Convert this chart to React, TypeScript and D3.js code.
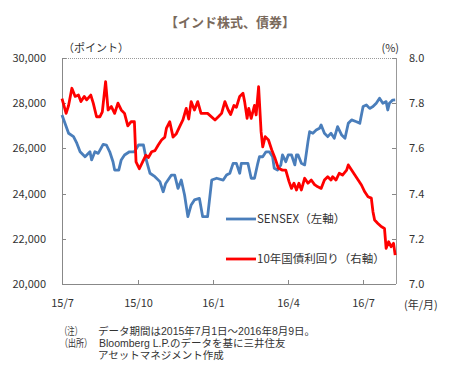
import React from "react";
import * as d3 from "d3";

// SENSEX (left axis)
const sensexDates = [
  "2015-07-01", "2015-07-09", "2015-07-15", "2015-07-19", "2015-07-23", "2015-07-29",
  "2015-08-04", "2015-08-06", "2015-08-10", "2015-08-14", "2015-08-20", "2015-08-24",
  "2015-08-28", "2015-09-01", "2015-09-03", "2015-09-08", "2015-09-11", "2015-09-15",
  "2015-09-21", "2015-09-27", "2015-10-02", "2015-10-08", "2015-10-12", "2015-10-16",
  "2015-10-22", "2015-10-28", "2015-11-01", "2015-11-04", "2015-11-11", "2015-11-15",
  "2015-11-19", "2015-11-23", "2015-11-27", "2015-12-01", "2015-12-05", "2015-12-09",
  "2015-12-15", "2015-12-19", "2015-12-25", "2015-12-30", "2016-01-05", "2016-01-13",
  "2016-01-17", "2016-01-21", "2016-01-25", "2016-01-29", "2016-02-02", "2016-02-04",
  "2016-02-12", "2016-02-16", "2016-02-20", "2016-02-24", "2016-02-26", "2016-03-01",
  "2016-03-05", "2016-03-09", "2016-03-13", "2016-03-15", "2016-03-19", "2016-03-23",
  "2016-03-25", "2016-03-29", "2016-04-01", "2016-04-05", "2016-04-09", "2016-04-11",
  "2016-04-13", "2016-04-17", "2016-04-21", "2016-04-25", "2016-04-27", "2016-05-01",
  "2016-05-05", "2016-05-09", "2016-05-11", "2016-05-15", "2016-05-19", "2016-05-23",
  "2016-05-27", "2016-05-31", "2016-06-05", "2016-06-09", "2016-06-13", "2016-06-17",
  "2016-06-23", "2016-06-27", "2016-07-01", "2016-07-05", "2016-07-09", "2016-07-13",
  "2016-07-17", "2016-07-21", "2016-07-25", "2016-07-29", "2016-07-31", "2016-08-02",
  "2016-08-06", "2016-08-09",
];
const sensexValues = [
  27480, 26670, 26520, 26230, 25850, 25630,
  25850, 25490, 25850, 25780, 26180, 26150,
  25850, 25410, 25040, 25040, 25490, 25710,
  25850, 25850, 26150, 26150, 25410, 24900,
  24750, 24530, 24080, 24450, 24820, 24820,
  24230, 24600, 23940, 22980, 23500, 23720,
  23790, 22980, 22980, 24600, 24680, 24600,
  24820, 24900, 25340, 25340, 24900, 25340,
  25340, 24680, 24680, 25340, 25630, 25630,
  25850, 25850, 25630, 25120, 25040, 25270,
  25710, 25410, 25710, 25710, 25270, 25710,
  25710, 25340, 25270, 26300, 26740, 26670,
  26810, 26890, 27040, 26670, 26520, 26670,
  26450, 26960, 26590, 26450, 27110, 27260,
  27180, 27110, 27850, 27920, 27770, 27850,
  28000, 28220, 28000, 28070, 27700, 28000,
  28140, 28150,
];

// 10-year government bond yield (right axis, %)
const yieldDates = [
  "2015-07-01", "2015-07-06", "2015-07-09", "2015-07-13", "2015-07-17", "2015-07-21",
  "2015-07-24", "2015-07-28", "2015-07-31", "2015-08-05", "2015-08-08", "2015-08-12",
  "2015-08-16", "2015-08-19", "2015-08-23", "2015-08-26", "2015-08-30", "2015-09-03",
  "2015-09-07", "2015-09-11", "2015-09-15", "2015-09-19", "2015-09-23", "2015-09-27",
  "2015-09-29", "2015-10-03", "2015-10-07", "2015-10-11", "2015-10-14", "2015-10-18",
  "2015-10-22", "2015-10-26", "2015-10-30", "2015-11-03", "2015-11-05", "2015-11-09",
  "2015-11-13", "2015-11-17", "2015-11-21", "2015-11-25", "2015-11-29", "2015-12-02",
  "2015-12-05", "2015-12-09", "2015-12-13", "2015-12-17", "2015-12-25", "2016-01-03",
  "2016-01-07", "2016-01-11", "2016-01-15", "2016-01-19", "2016-01-22", "2016-01-26",
  "2016-01-29", "2016-02-02", "2016-02-06", "2016-02-08", "2016-02-11", "2016-02-13",
  "2016-02-16", "2016-02-20", "2016-02-22", "2016-02-25", "2016-02-28", "2016-03-01",
  "2016-03-04", "2016-03-08", "2016-03-12", "2016-03-16", "2016-03-20", "2016-03-25",
  "2016-03-29", "2016-04-02", "2016-04-05", "2016-04-08", "2016-04-11", "2016-04-14",
  "2016-04-17", "2016-04-21", "2016-04-25", "2016-04-29", "2016-05-03", "2016-05-07",
  "2016-05-11", "2016-05-15", "2016-05-19", "2016-05-23", "2016-05-25", "2016-05-29",
  "2016-06-02", "2016-06-06", "2016-06-11", "2016-06-13", "2016-06-17", "2016-06-21",
  "2016-06-25", "2016-06-29", "2016-07-03", "2016-07-07", "2016-07-11", "2016-07-13",
  "2016-07-15", "2016-07-19", "2016-07-23", "2016-07-27", "2016-07-29", "2016-08-01",
  "2016-08-04", "2016-08-07", "2016-08-09",
];
const yieldValues = [
  7.82, 7.755, 7.79, 7.866, 7.83, 7.836,
  7.807, 7.83, 7.815, 7.836, 7.8, 7.74,
  7.74, 7.762, 7.895, 7.77, 7.785, 7.755,
  7.8, 7.77, 7.755, 7.7, 7.718, 7.718,
  7.54, 7.51, 7.54, 7.57, 7.56, 7.585,
  7.59, 7.615, 7.637, 7.65, 7.69, 7.718,
  7.65, 7.665, 7.696, 7.726, 7.777, 7.73,
  7.807, 7.77, 7.807, 7.755, 7.755, 7.726,
  7.74, 7.755, 7.807, 7.77, 7.75, 7.79,
  7.782, 7.83, 7.844, 7.807, 7.733, 7.777,
  7.733, 7.79, 7.748, 7.873, 7.674, 7.607,
  7.652, 7.637, 7.593, 7.556, 7.512, 7.504,
  7.504, 7.453, 7.423, 7.446, 7.416, 7.446,
  7.416, 7.468, 7.446, 7.46, 7.44, 7.43,
  7.423, 7.46, 7.475, 7.46, 7.475, 7.46,
  7.49, 7.482, 7.504, 7.527, 7.504, 7.482,
  7.46, 7.438, 7.408, 7.386, 7.38, 7.32,
  7.283, 7.268, 7.254, 7.246, 7.158, 7.187,
  7.165, 7.18, 7.128,
];

const leftTicks = [20000, 22000, 24000, 26000, 28000, 30000];
const rightTicks = [7.0, 7.2, 7.4, 7.6, 7.8, 8.0];
const xTickDates = ["2015-07-01", "2015-10-01", "2016-01-01", "2016-04-01", "2016-07-01"];
const xTickLabels = ["15/7", "15/10", "16/1", "16/4", "16/7"];

const font = "'Noto Sans CJK JP', 'Noto Sans', sans-serif";
// notes use a Latin font first so their line boxes stay compact; CJK falls back
const noteFont = "'Liberation Sans', 'Noto Sans CJK JP', sans-serif";
const textColor = "#333333";

export default function App() {
  const W = 455, H = 371;
  const left = 62, right = 396, top = 58, bottom = 284;
  const parse = d3.timeParse("%Y-%m-%d");

  const x = d3.scaleTime()
    .domain([parse("2015-07-01")!, parse("2016-08-10")!])
    .range([left, right]);
  const yL = d3.scaleLinear().domain([20000, 30000]).range([bottom, top]);
  const yR = d3.scaleLinear().domain([7.0, 8.0]).range([bottom, top]);

  const sensex = sensexDates.map((d, i) => ({ date: parse(d)!, v: sensexValues[i] }));
  const yields = yieldDates.map((d, i) => ({ date: parse(d)!, v: yieldValues[i] }));

  const sensexLine = d3.line<{ date: Date; v: number }>()
    .x(d => x(d.date)).y(d => yL(d.v))(sensex) || "";
  const yieldLine = d3.line<{ date: Date; v: number }>()
    .x(d => x(d.date)).y(d => yR(d.v))(yields) || "";

  return (
    <svg width={W} height={H} style={{ position: "absolute", left: 0, top: 0, background: "#fff" }}
      fontFamily={font}>
      <rect x={0} y={0} width={W} height={H} fill="#fff" />
      {/* title */}
      <text x={230} y={27} textAnchor="middle" fontSize={13} fontWeight="bold" fill="#7a6a5c">
        【インド株式、債券】
      </text>
      <text x={63} y={52} fontSize={11} fill={textColor}>（ポイント）</text>
      <text x={399} y={52} fontSize={11} fill={textColor} textAnchor="end">(%)</text>

      {/* plot frame */}
      <line x1={left} x2={right} y1={top + 0.5} y2={top + 0.5} stroke="#999" strokeDasharray="1,1" />
      <line x1={right + 0.5} x2={right + 0.5} y1={top} y2={bottom} stroke="#999" />
      <line x1={left + 0.5} x2={left + 0.5} y1={top} y2={bottom} stroke="#888" />
      <line x1={left} x2={right} y1={bottom + 0.5} y2={bottom + 0.5} stroke="#888" />

      {/* left axis */}
      {leftTicks.map(t => (
        <g key={"l" + t}>
          <line x1={left} x2={left + 4} y1={Math.round(yL(t)) + 0.5} y2={Math.round(yL(t)) + 0.5} stroke="#888" />
          <text x={46} y={yL(t) + 4} textAnchor="end" fontSize={11} fill={textColor}>
            {d3.format(",")(t)}
          </text>
        </g>
      ))}
      {/* right axis */}
      {rightTicks.map(t => (
        <g key={"r" + t}>
          <line x1={right - 4} x2={right} y1={Math.round(yR(t)) + 0.5} y2={Math.round(yR(t)) + 0.5} stroke="#888" />
          <text x={409} y={yR(t) + 4} fontSize={11} fill={textColor}>{t.toFixed(1)}</text>
        </g>
      ))}
      {/* x axis */}
      {xTickDates.map((d, i) => {
        const px = Math.round(x(parse(d)!)) + 0.5;
        return (
          <g key={d}>
            <line x1={px} x2={px} y1={bottom} y2={bottom - 4} stroke="#888" />
            <text x={px} y={307} textAnchor="middle" fontSize={11} fill={textColor}>{xTickLabels[i]}</text>
          </g>
        );
      })}
      <text x={404} y={309} fontSize={11} fill={textColor}>(年/月)</text>

      {/* series */}
      <path d={sensexLine} fill="none" stroke="#4a7ebb" strokeWidth={2.8} strokeLinejoin="round" />
      <path d={yieldLine} fill="none" stroke="#ff0000" strokeWidth={2.8} strokeLinejoin="round" />

      {/* legend */}
      <line x1={226} x2={256} y1={219} y2={219} stroke="#4a7ebb" strokeWidth={2.8} />
      <text x={257} y={223} fontSize={11.5} fill={textColor}>SENSEX（左軸）</text>
      <line x1={226} x2={256} y1={259} y2={259} stroke="#ff0000" strokeWidth={2.8} />
      <text x={257} y={263} fontSize={11.5} fill={textColor}>10年国債利回り（右軸）</text>

      {/* notes */}
      <g fontSize={10.5} fill={textColor} fontFamily={noteFont}>
        <text x={60} y={335} textLength={22} lengthAdjust="spacingAndGlyphs">（注）</text>
        <text x={98} y={335}>データ期間は2015年7月1日～2016年8月9日。</text>
        <text x={60} y={347} textLength={32} lengthAdjust="spacingAndGlyphs">（出所）</text>
        <text x={99} y={347}>Bloomberg L.P.のデータを基に三井住友</text>
        <text x={98} y={359}>アセットマネジメント作成</text>
      </g>
    </svg>
  );
}
